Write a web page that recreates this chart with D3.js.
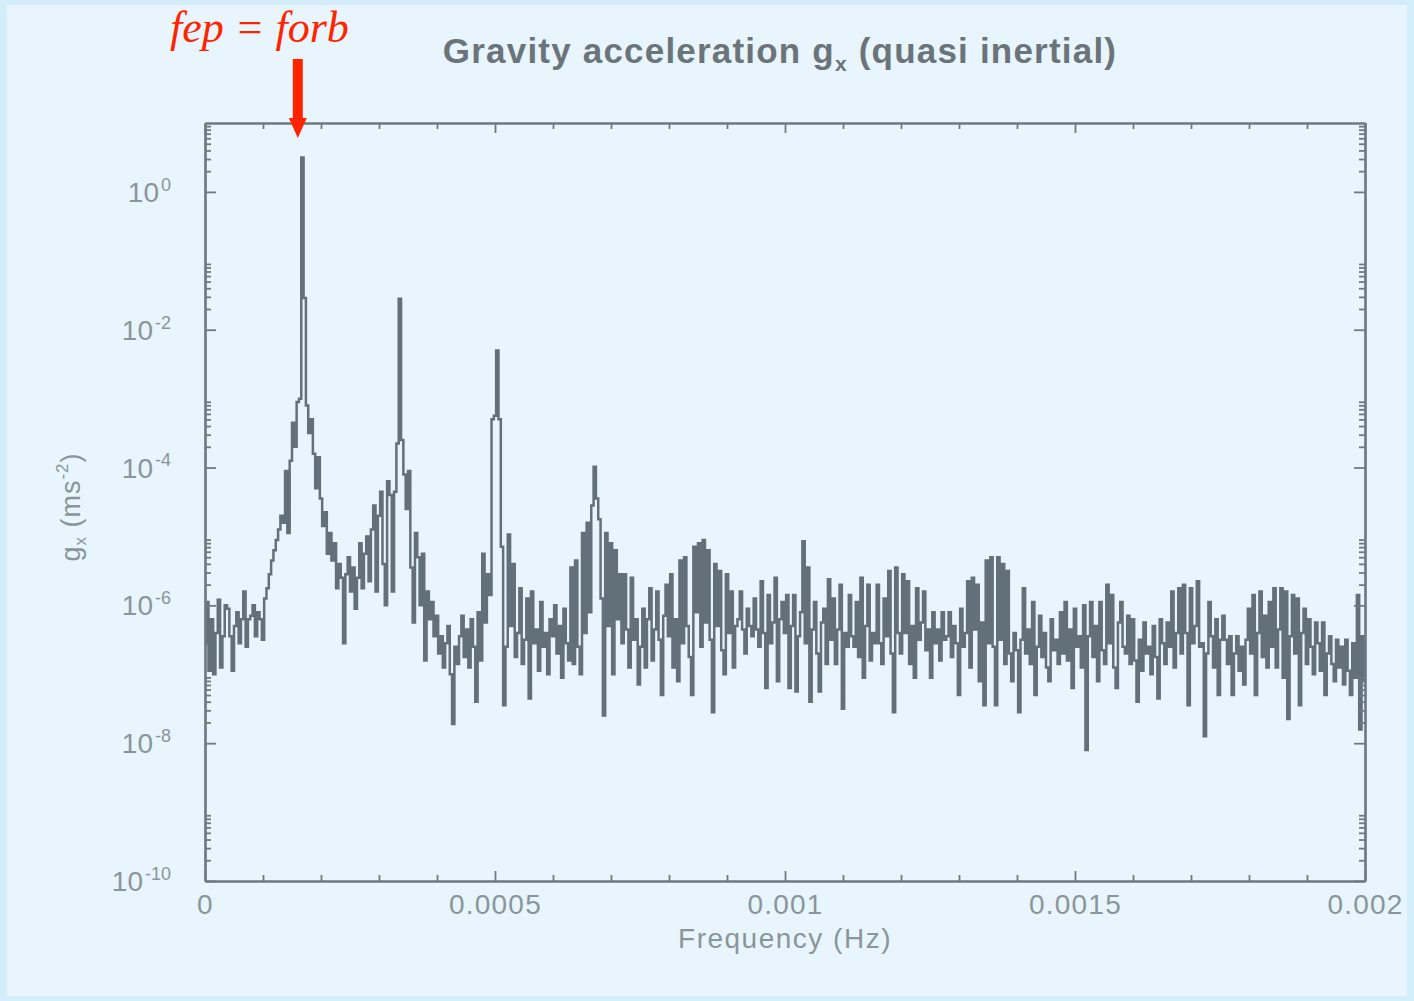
<!DOCTYPE html>
<html>
<head>
<meta charset="utf-8">
<script src="https://cdn.jsdelivr.net/npm/d3@7"></script>
<style>
  body { margin: 0; background: #d3edfb; }
  svg { display: block; }
</style>
</head>
<body>
<div id="chart"></div>
<script>
// spectrum of g_x, values stored as log10(g_x / m s^-2), one every freqStep Hz
var freqStep = 4e-6;
var gxExp = [
  -6.55, -5.95, -6.95, -6.20, -7.00, -6.40, -5.92, -6.90, -6.45, -6.00,
  -6.05, -6.45, -6.95, -6.30, -6.10, -6.55, -6.20, -5.80, -6.60, -6.20,
  -6.15, -6.00, -6.45, -6.10, -6.20, -6.50, -5.90, -5.75, -5.55, -5.35,
  -5.20, -5.05, -4.90, -4.70, -4.80, -4.05, -4.95, -3.90, -3.35, -3.70,
  -3.05, -3.00, 0.50, -1.54, -3.10, -3.50, -3.30, -3.80, -4.30, -3.85,
  -4.45, -4.85, -4.65, -5.25, -4.95, -5.35, -5.10, -5.75, -5.40, -5.60,
  -6.55, -5.55, -5.30, -5.80, -5.45, -6.05, -5.60, -5.10, -5.75, -5.25,
  -5.00, -5.65, -4.90, -4.55, -5.80, -4.70, -4.35, -5.40, -6.00, -4.20,
  -4.40, -5.80, -4.35, -3.65, -1.55, -3.60, -4.10, -4.60, -4.05, -5.45,
  -6.25, -4.95, -5.30, -6.00, -5.25, -6.80, -5.80, -6.20, -5.95, -6.45,
  -6.15, -6.70, -6.45, -6.90, -6.55, -6.30, -7.00, -7.72, -6.60, -6.85,
  -6.45, -6.15, -6.75, -6.35, -6.90, -6.20, -6.60, -7.40, -6.10, -6.80,
  -5.25, -6.25, -5.55, -5.85, -3.30, -3.25, -2.30, -3.30, -5.15, -7.45,
  -6.60, -4.97, -6.30, -5.40, -6.75, -6.40, -5.75, -6.85, -6.50, -5.90,
  -7.35, -5.80, -6.55, -6.35, -6.95, -5.95, -6.60, -6.40, -7.00, -6.20,
  -6.45, -6.00, -6.70, -6.30, -7.05, -6.05, -6.55, -6.80, -5.45, -6.85,
  -5.35, -6.60, -7.00, -4.95, -6.40, -4.80, -6.10, -4.55, -3.99, -4.45,
  -4.75, -5.90, -7.60, -4.95, -6.30, -5.10, -7.00, -5.20, -6.20, -5.55,
  -6.55, -5.55, -6.35, -6.90, -5.60, -6.50, -6.20, -7.15, -6.60, -6.05,
  -6.90, -6.20, -5.75, -6.80, -6.35, -5.80, -6.50, -7.30, -6.15, -5.70,
  -6.45, -5.55, -6.90, -6.20, -7.10, -5.35, -6.55, -5.30, -6.30, -6.75,
  -7.30, -5.15, -6.10, -5.10, -6.60, -5.05, -6.25, -5.20, -6.50, -7.55,
  -5.40, -6.30, -5.50, -6.65, -7.00, -5.55, -6.40, -5.80, -6.90, -6.30,
  -6.20, -5.80, -6.35, -6.70, -6.05, -6.30, -6.45, -5.90, -6.35, -6.60,
  -5.65, -6.40, -7.20, -5.85, -6.55, -6.25, -5.60, -7.10, -6.20, -5.95,
  -6.40, -5.85, -7.20, -6.30, -5.85, -7.25, -6.45, -6.10, -5.07, -6.55,
  -5.45, -7.40, -6.35, -5.95, -6.70, -7.25, -6.25, -6.05, -6.85, -5.62,
  -6.50, -5.90, -6.85, -6.35, -5.70, -7.50, -6.40, -6.60, -5.85, -6.45,
  -6.60, -5.95, -6.75, -5.60, -7.05, -6.30, -5.70, -6.80, -6.40, -6.55,
  -5.70, -6.55, -6.85, -5.90, -6.45, -5.50, -6.70, -7.55, -5.45, -6.40,
  -6.70, -5.55, -6.40, -5.65, -6.85, -6.30, -7.05, -5.75, -6.50, -6.25,
  -5.80, -6.65, -6.35, -7.05, -6.10, -6.55, -6.35, -6.80, -6.10, -6.50,
  -6.45, -6.10, -6.75, -6.30, -6.55, -7.30, -6.05, -6.60, -6.40, -5.65,
  -6.90, -5.60, -6.35, -5.70, -7.10, -6.25, -7.45, -5.35, -6.55, -5.30,
  -6.60, -7.45, -5.30, -6.50, -5.40, -6.85, -5.50, -6.70, -7.10, -6.40,
  -6.65, -7.55, -6.50, -5.75, -6.70, -6.35, -6.85, -5.95, -7.30, -6.60,
  -6.15, -6.75, -6.40, -6.90, -7.10, -6.20, -6.65, -6.50, -6.85, -6.10,
  -6.70, -5.95, -6.80, -6.35, -7.20, -6.05, -6.60, -6.45, -6.90, -6.00,
  -8.10, -6.45, -5.95, -6.75, -6.30, -7.10, -5.95, -6.65, -6.85, -5.70,
  -6.55, -5.85, -6.90, -7.20, -6.25, -5.95, -6.60, -6.70, -6.15, -6.85,
  -6.20, -6.80, -7.40, -6.50, -6.95, -6.25, -6.70, -6.60, -7.00, -6.30,
  -6.75, -7.35, -6.20, -6.55, -6.85, -6.25, -6.60, -5.80, -6.90, -6.40,
  -5.75, -6.70, -5.70, -6.40, -7.45, -5.75, -6.55, -6.30, -5.65, -6.60,
  -6.55, -7.90, -6.70, -5.95, -6.45, -6.90, -6.20, -7.30, -6.50, -6.15,
  -6.50, -6.85, -6.45, -7.30, -6.70, -6.45, -6.95, -6.60, -7.15, -6.50,
  -6.05, -6.70, -5.85, -7.30, -6.40, -5.80, -6.75, -6.15, -6.90, -5.95,
  -6.60, -5.75, -6.90, -6.35, -5.75, -7.05, -5.80, -7.65, -6.45, -5.85,
  -6.70, -5.90, -7.45, -6.40, -6.05, -6.85, -6.20, -6.60, -7.00, -6.25,
  -6.55, -6.95, -6.25, -7.30, -6.70, -6.45, -6.85, -7.10, -6.50, -6.90,
  -6.60, -7.15, -6.50, -6.95, -7.30, -6.55, -7.05, -5.85, -7.80, -6.45,
  -7.10
];

// axis ticks
var xMajorTicks = [0, 0.0005, 0.001, 0.0015, 0.002];
var xTickLabels = ["0", "0.0005", "0.001", "0.0015", "0.002"];
var yMajorTicks = [1e-10, 1e-8, 1e-6, 1e-4, 1e-2, 1e0];

// the orbital frequency the red arrow points at
var fOrb = 0.00016;

var svgWidth = 1414;
var svgHeight = 1001;
var frameColor = "#6c7b83";
var labelColor = "#8a959b";

var svg = d3.select("#chart")
  .append("svg")
  .attr("width", svgWidth)
  .attr("height", svgHeight);

// pale panel inside the slightly darker page edge
svg.append("rect")
  .attr("x", 7)
  .attr("y", 5)
  .attr("width", 1400)
  .attr("height", 991)
  .attr("fill", "#e8f5fc");

var xScale = d3.scaleLinear()
  .domain([0, 0.002])
  .range([205, 1365]);

var yScale = d3.scaleLog()
  .domain([1e-10, 1e1])
  .range([881, 123]);

var data = gxExp.map(function(e, i) {
  return { f: i * freqStep, g: Math.pow(10, e) };
});

var xMinorTicks = d3.range(1, 20).map(d => d * 0.0001).filter(d => d % 0.0005 > 1e-9 && 0.0005 - d % 0.0005 > 1e-9);
var yMinorTicks = [];
yMajorTicks.forEach(function(t) {
  for (var k = 2; k <= 9; k++) yMinorTicks.push(k * t);
});

// the spectrum
var line = d3.line()
  .x(d => xScale(d.f))
  .y(d => yScale(d.g))
  .curve(d3.curveStep);

svg.append("path")
  .datum(data)
  .attr("d", line)
  .attr("fill", "none")
  .attr("stroke", "#627179")
  .attr("stroke-width", 2.5);

// frame: four axes with ticks pointing inwards
function styleAxis(g) {
  g.select(".domain").attr("stroke", frameColor).attr("stroke-width", 2.2);
  g.selectAll(".tick line").attr("stroke", frameColor).attr("stroke-width", 1.8);
  g.selectAll(".tick text")
    .attr("fill", labelColor)
    .attr("font-family", "'Liberation Sans', Arial, sans-serif");
}

var bottomAxis = svg.append("g")
  .attr("transform", "translate(0, 881)")
  .call(d3.axisBottom(xScale).tickValues(xMajorTicks).tickSizeInner(-10).tickSizeOuter(0)
    .tickPadding(13).tickFormat((d, i) => xTickLabels[i]))
  .call(styleAxis);
bottomAxis.selectAll(".tick text")
  .attr("font-size", 28)
  .attr("letter-spacing", 1.2);

svg.append("g")
  .attr("transform", "translate(0, 881)")
  .call(d3.axisBottom(xScale).tickValues(xMinorTicks).tickSizeInner(-6).tickSizeOuter(0).tickFormat(""))
  .call(styleAxis);

svg.append("g")
  .attr("transform", "translate(0, 123)")
  .call(d3.axisTop(xScale).tickValues(xMajorTicks).tickSizeInner(-10).tickSizeOuter(0).tickFormat(""))
  .call(styleAxis);

svg.append("g")
  .attr("transform", "translate(0, 123)")
  .call(d3.axisTop(xScale).tickValues(xMinorTicks).tickSizeInner(-6).tickSizeOuter(0).tickFormat(""))
  .call(styleAxis);

var leftAxis = svg.append("g")
  .attr("transform", "translate(205, 0)")
  .call(d3.axisLeft(yScale).tickValues(yMajorTicks).tickSizeInner(-11).tickSizeOuter(0).tickPadding(34))
  .call(styleAxis);

// tick labels as 10 with a raised exponent
leftAxis.selectAll(".tick text")
  .attr("font-size", 28)
  .attr("dy", "0.34em")
  .each(function(d) {
    var t = d3.select(this);
    var e = Math.round(Math.log10(d));
    t.text(null);
    t.append("tspan").text("10");
    t.append("tspan")
      .attr("dx", 2)
      .attr("dy", "-0.62em")
      .attr("font-size", 18)
      .text(e === 0 ? "0" : "-" + Math.abs(e));
  });

svg.append("g")
  .attr("transform", "translate(205, 0)")
  .call(d3.axisLeft(yScale).tickValues(yMinorTicks).tickSizeInner(-6).tickSizeOuter(0).tickFormat(""))
  .call(styleAxis);

svg.append("g")
  .attr("transform", "translate(1365, 0)")
  .call(d3.axisRight(yScale).tickValues(yMajorTicks).tickSizeInner(-11).tickSizeOuter(0).tickFormat(""))
  .call(styleAxis);

svg.append("g")
  .attr("transform", "translate(1365, 0)")
  .call(d3.axisRight(yScale).tickValues(yMinorTicks).tickSizeInner(-6).tickSizeOuter(0).tickFormat(""))
  .call(styleAxis);

// title
var title = svg.append("text")
  .attr("x", 780)
  .attr("y", 63)
  .attr("text-anchor", "middle")
  .attr("font-family", "'Liberation Sans', Arial, sans-serif")
  .attr("font-weight", "bold")
  .attr("font-size", 35)
  .attr("letter-spacing", 1.2)
  .attr("fill", "#6a747a");
title.append("tspan").text("Gravity acceleration g");
title.append("tspan").attr("dy", 8).attr("font-size", 21).text("x");
title.append("tspan").attr("dy", -8).text(" (quasi inertial)");

// axis labels
svg.append("text")
  .attr("x", 785)
  .attr("y", 948)
  .attr("text-anchor", "middle")
  .attr("font-family", "'Liberation Sans', Arial, sans-serif")
  .attr("font-size", 28)
  .attr("letter-spacing", 1.5)
  .attr("fill", labelColor)
  .text("Frequency (Hz)");

var yLabel = svg.append("text")
  .attr("transform", "translate(80, 507) rotate(-90)")
  .attr("text-anchor", "middle")
  .attr("font-family", "'Liberation Sans', Arial, sans-serif")
  .attr("font-size", 27)
  .attr("letter-spacing", 1)
  .attr("fill", labelColor);
yLabel.append("tspan").text("g");
yLabel.append("tspan").attr("dy", 6).attr("font-size", 17).text("x");
yLabel.append("tspan").attr("dy", -6).text(" (ms");
yLabel.append("tspan").attr("dy", -12).attr("font-size", 17).text("-2");
yLabel.append("tspan").attr("dy", 12).text(")");

// red annotation for the orbital frequency
var arrowX = xScale(fOrb);
svg.append("text")
  .attr("x", 170)
  .attr("y", 42)
  .attr("font-family", "'Liberation Serif', 'Times New Roman', serif")
  .attr("font-style", "italic")
  .attr("font-size", 44)
  .attr("fill", "#ff2300")
  .text("fep = forb");

svg.append("rect")
  .attr("x", arrowX - 5)
  .attr("y", 59)
  .attr("width", 10)
  .attr("height", 61)
  .attr("fill", "#ff2300");

svg.append("path")
  .attr("d", `M${arrowX - 9},118 L${arrowX + 9},118 L${arrowX},138 Z`)
  .attr("fill", "#ff2300");
</script>
</body>
</html>
